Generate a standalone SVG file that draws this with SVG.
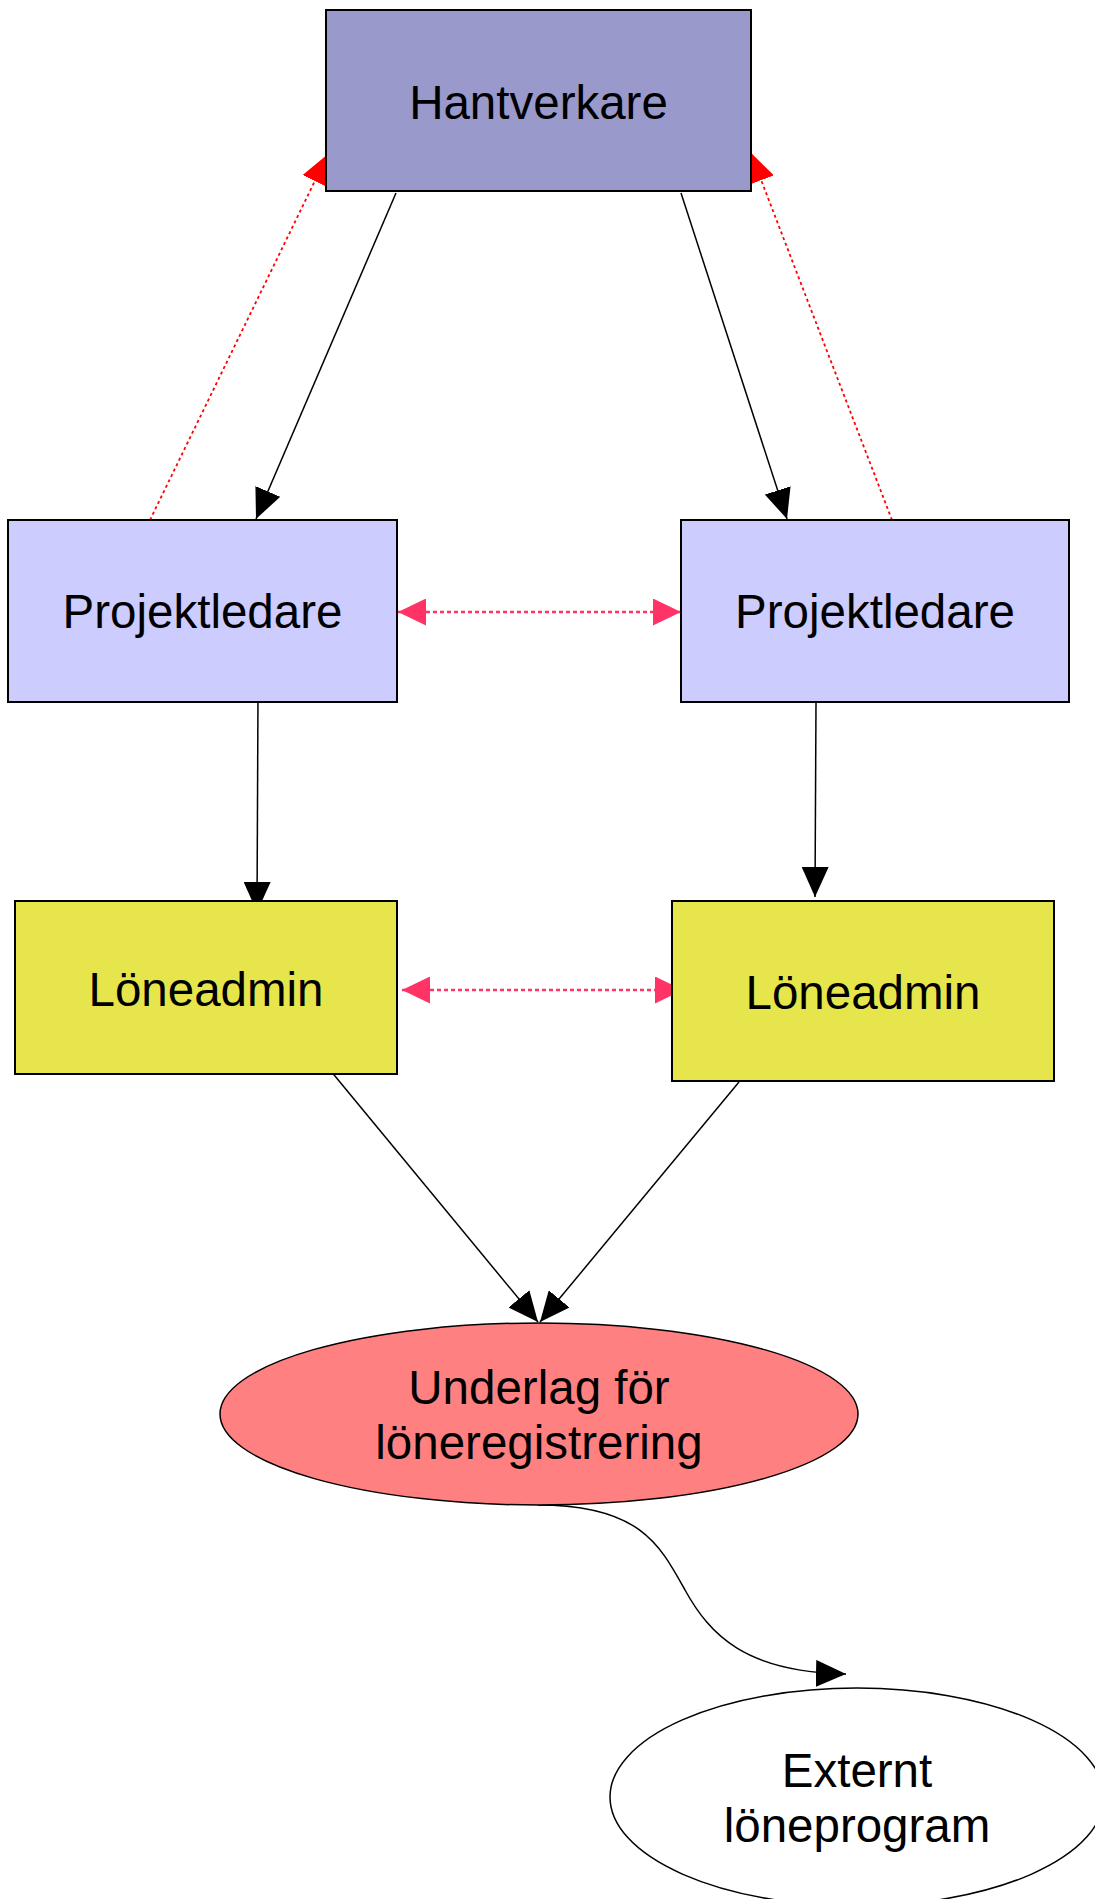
<svg xmlns="http://www.w3.org/2000/svg" width="1095" height="1899" viewBox="0 0 1095 1899">
<style>
  .box { stroke: #000; stroke-width: 2; }
  .lbl { font-family: "Liberation Sans", Arial, sans-serif; font-size: 47.5px; fill: #000; text-anchor: middle; }
  .blk { stroke: #000; stroke-width: 1.5; fill: none; marker-end: url(#ab); }
  .red { stroke: #ff0000; stroke-width: 1.8; stroke-dasharray: 3 3; fill: none; marker-end: url(#ar); }
  .pnk { stroke: #ff3366; stroke-width: 2.7; stroke-dasharray: 4 3; fill: none; marker-start: url(#ap); marker-end: url(#ap); }
</style>
<defs>
  <marker id="ab" markerUnits="userSpaceOnUse" markerWidth="30" markerHeight="27" refX="30" refY="13.5" orient="auto" viewBox="0 0 30 27">
    <path d="M0,0 L30,13.5 L0,27 z" fill="#000"/>
  </marker>
  <marker id="ar" markerUnits="userSpaceOnUse" markerWidth="30" markerHeight="27" refX="30" refY="13.5" orient="auto" viewBox="0 0 30 27">
    <path d="M0,0 L30,13.5 L0,27 z" fill="#ff0000"/>
  </marker>
  <marker id="ap" markerUnits="userSpaceOnUse" markerWidth="28" markerHeight="27" refX="28" refY="13.5" orient="auto-start-reverse" viewBox="0 0 28 27">
    <path d="M0,0 L28,13.5 L0,27 z" fill="#ff3366"/>
  </marker>
</defs>
<g id="connectors">
  <line class="blk" x1="396" y1="193" x2="256" y2="519"/>
  <line class="blk" x1="681" y1="193" x2="787" y2="519"/>
  <line class="red" x1="150" y1="520" x2="328" y2="154"/>
  <line class="red" x1="892" y1="520" x2="750.4" y2="152.2"/>
  <line class="pnk" x1="398" y1="612" x2="681" y2="612"/>
  <line class="blk" x1="258" y1="696" x2="257" y2="912"/>
  <line class="blk" x1="816" y1="703" x2="815" y2="897"/>
  <line class="pnk" x1="402" y1="990" x2="683" y2="990"/>
  <line class="blk" x1="330" y1="1070" x2="538" y2="1322"/>
  <line class="blk" x1="739" y1="1082" x2="540" y2="1322"/>
  <path class="blk" d="M538,1505 C640,1505 660,1545 685,1590 C710,1635 745,1672 846,1674"/>
</g>
<g id="hantverkare">
  <rect class="box" x="326" y="10" width="425" height="181" fill="#9999cc"/>
  <text class="lbl" x="538.5" y="118.5">Hantverkare</text>
</g>
<g id="projektledare1">
  <rect class="box" x="8" y="520" width="389" height="182" fill="#ccccff"/>
  <text class="lbl" x="202.5" y="627.5">Projektledare</text>
</g>
<g id="projektledare2">
  <rect class="box" x="681" y="520" width="388" height="182" fill="#ccccff"/>
  <text class="lbl" x="875" y="627.5">Projektledare</text>
</g>
<g id="loneadmin1">
  <rect class="box" x="15" y="901" width="382" height="173" fill="#e6e64c"/>
  <text class="lbl" x="206" y="1005.5">Löneadmin</text>
</g>
<g id="loneadmin2">
  <rect class="box" x="672" y="901" width="382" height="180" fill="#e6e64c"/>
  <text class="lbl" x="863" y="1009">Löneadmin</text>
</g>
<g id="underlag">
  <ellipse cx="539" cy="1414" rx="319" ry="91" fill="#ff8080" stroke="#000" stroke-width="1.5"/>
  <text class="lbl" x="539" y="1404">Underlag för</text>
  <text class="lbl" x="539" y="1459">löneregistrering</text>
</g>
<g id="externt">
  <ellipse cx="857" cy="1797" rx="247" ry="109" fill="#ffffff" stroke="#000" stroke-width="1.5"/>
  <text class="lbl" x="857" y="1787">Externt</text>
  <text class="lbl" x="857" y="1842">löneprogram</text>
</g>
</svg>
